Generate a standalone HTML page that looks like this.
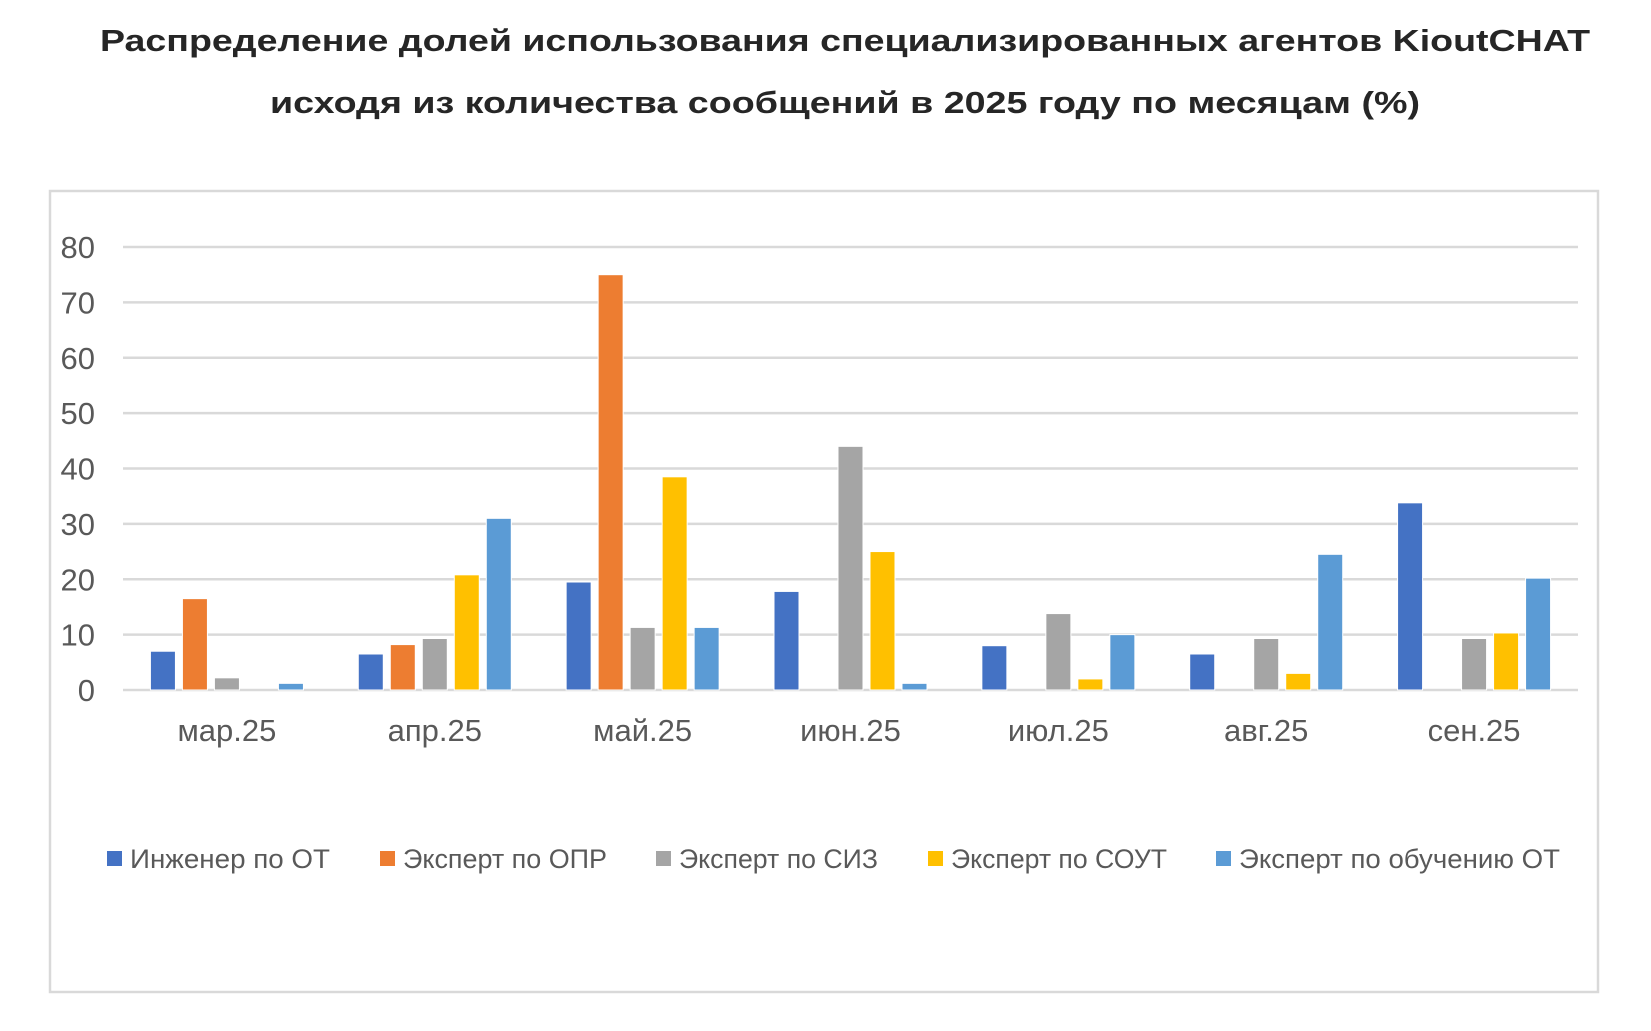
<!DOCTYPE html>
<html><head><meta charset="utf-8">
<style>
html,body{margin:0;padding:0;background:#fff;}
svg{display:block;font-family:"Liberation Sans","DejaVu Sans",sans-serif;}
</style></head>
<body>
<svg id="chart" width="1651" height="1031" viewBox="0 0 1651 1031">
  <text x="845" y="51" text-anchor="middle" font-size="31" font-weight="bold" fill="#262626" textLength="1490" lengthAdjust="spacingAndGlyphs">Распределение долей использования специализированных агентов KioutCHAT</text>
  <text x="845" y="113" text-anchor="middle" font-size="31" font-weight="bold" fill="#262626" textLength="1150" lengthAdjust="spacingAndGlyphs">исходя из количества сообщений в 2025 году по месяцам (%)</text>
  <rect x="50" y="191" width="1548" height="801" fill="none" stroke="#d9d9d9" stroke-width="2.5"/>
  <g id="grid"></g>
  <g id="bars"></g>
  <g id="xlabels"></g>
  <g id="legend"></g>
</svg>
<script>
const categories = ["мар.25","апр.25","май.25","июн.25","июл.25","авг.25","сен.25"];
const seriesNames = ["Инженер по ОТ","Эксперт по ОПР","Эксперт по СИЗ","Эксперт по СОУТ","Эксперт по обучению ОТ"];
const engineer = [7, 6.5, 19.5, 17.8, 8, 6.5, 33.8];
const opr = [16.5, 8.2, 75, 0, 0, 0, 0];
const siz = [2.2, 9.3, 11.3, 44, 13.8, 9.3, 9.3];
const sout = [0, 20.8, 38.5, 25, 2, 3, 10.3];
const training = [1.2, 31, 11.3, 1.2, 10, 24.5, 20.2];
const yTicks = [0,10,20,30,40,50,60,70,80];

const seriesValues = [engineer, opr, siz, sout, training];
const colors = ["#4472c4","#ed7d31","#a5a5a5","#ffc000","#5b9bd5"];
const legendLen = [200,204,199,216,321];
const NS = "http://www.w3.org/2000/svg";
const plotL = 123, plotR = 1578, y0 = 690, yTop = 247, yMax = 80;
const yScale = v => y0 - (v / yMax) * (y0 - yTop);
const catW = (plotR - plotL) / categories.length;
const xCenter = i => plotL + catW * (i + 0.5);
const slot = 32, barW = 25;

function mk(tag, attrs){const e=document.createElementNS(NS,tag);for(const k in attrs)e.setAttribute(k,attrs[k]);return e;}

const grid = document.getElementById('grid');
yTicks.forEach(t=>{
  const l = mk('line',{x1:plotL,x2:plotR,y1:yScale(t),y2:yScale(t),stroke:'#d9d9d9','stroke-width':2.5});
  
  
  grid.appendChild(l);
  const tx = mk('text',{x:95,y:yScale(t)+11,'text-anchor':'end','font-size':31,fill:'#595959'});
  tx.textContent = t;
  
  
  grid.appendChild(tx);
});

const bars = document.getElementById('bars');
categories.forEach((c,i)=>{
  seriesValues.forEach((vals,s)=>{
    const v = vals[i];
    if(!v) return;
    const cx = xCenter(i) + (s - 2) * slot;
    const r = mk('rect',{x:cx-barW/2,y:yScale(v),width:barW,height:y0-yScale(v),fill:colors[s],stroke:'#fff','stroke-width':1});
    
    
    bars.appendChild(r);
  });
});

const xl = document.getElementById('xlabels');
categories.forEach((c,i)=>{
  const t = mk('text',{x:xCenter(i),y:741,'text-anchor':'middle','font-size':31,fill:'#595959'});
  t.textContent = c;
  
  
  xl.appendChild(t);
});

const legendX = [107,380,656,928,1216];
const lg = document.getElementById('legend');
seriesNames.forEach((n,s)=>{
  const g = mk('g',{});
  
  
  g.appendChild(mk('rect',{x:legendX[s],y:851,width:15,height:15,fill:colors[s]}));
  const t = mk('text',{x:legendX[s]+23,y:868,'font-size':27,fill:'#595959',textLength:legendLen[s],lengthAdjust:'spacingAndGlyphs'});
  t.textContent = n;
  g.appendChild(t);
  lg.appendChild(g);
});
</script>
</body></html>
